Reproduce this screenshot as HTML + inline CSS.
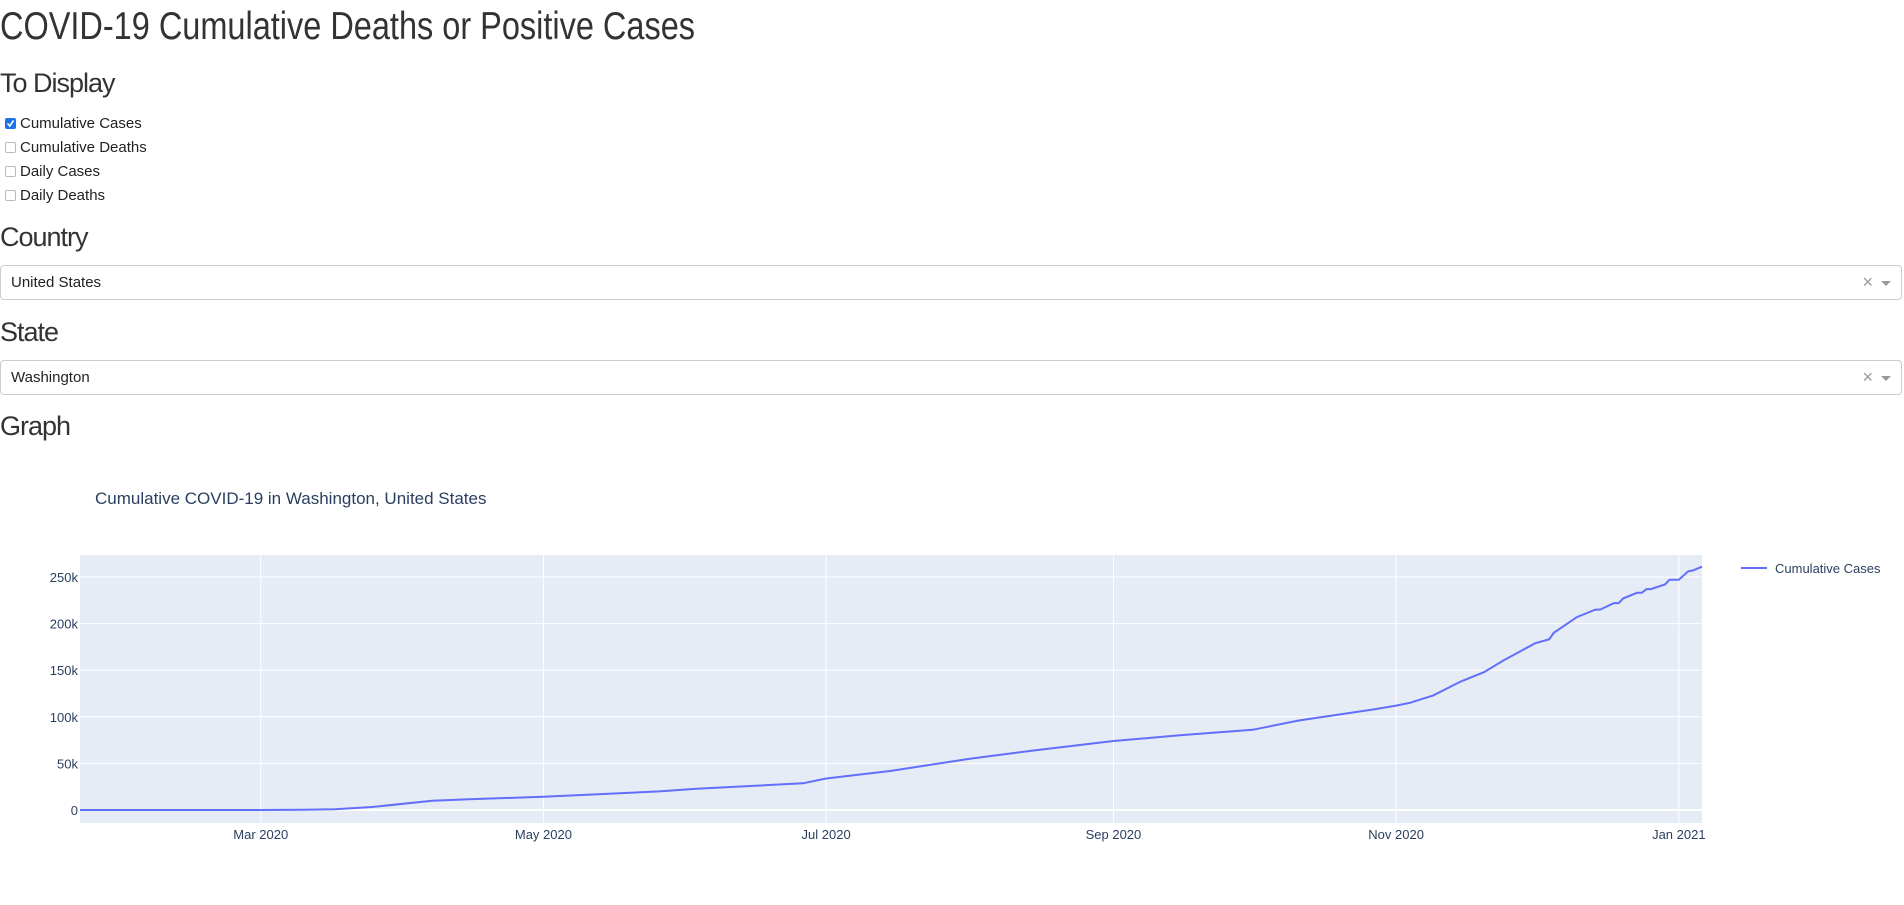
<!DOCTYPE html>
<html><head><meta charset="utf-8">
<style>
body{margin:0;width:1904px;height:905px;overflow:hidden;background:#fff;font-family:"Liberation Sans",sans-serif;color:#333;position:relative}
.abs{position:absolute;white-space:nowrap}
.h{font-weight:300;color:#333;transform-origin:0 0}
.cb{position:absolute;left:5px;width:11px;height:11px;border:1px solid #bbb;border-radius:2px;background:#fff;box-sizing:border-box}
.cb.on{background:#1a73e8;border-color:#1a73e8}
.lbl{position:absolute;left:20px;font-size:15px;color:#222}
.dd{position:absolute;left:0;width:1902px;height:35px;border:1px solid #ccc;border-radius:4px;box-sizing:border-box;background:#fff}
.dd .v{position:absolute;left:10px;top:8px;font-size:15px;color:#222}
.dd .x{position:absolute;right:28px;top:6px;font-size:18px;color:#999}
.dd .a{position:absolute;right:10px;top:15px;width:0;height:0;border-left:5px solid transparent;border-right:5px solid transparent;border-top:5px solid #999}
</style></head><body>
<div class="abs h" id="t1" style="left:0;top:5px;font-size:39px">COVID-19 Cumulative Deaths or Positive Cases</div>
<div class="abs h" style="left:0;top:68px;font-size:27px;letter-spacing:-1px">To Display</div>
<div>
<div class="cb on" style="top:118px"><svg width="9" height="9" style="position:absolute;left:0;top:0"><path d="M1.5 4.5 L3.8 7 L7.5 1.5" stroke="#fff" stroke-width="1.6" fill="none"/></svg></div>
<div class="lbl" style="top:115px">Cumulative Cases</div>
<div class="cb" style="top:142px"></div>
<div class="lbl" style="top:139px">Cumulative Deaths</div>
<div class="cb" style="top:166px"></div>
<div class="lbl" style="top:163px">Daily Cases</div>
<div class="cb" style="top:190px"></div>
<div class="lbl" style="top:187px">Daily Deaths</div>
</div>
<div class="abs h" style="left:0;top:222px;font-size:27px;letter-spacing:-1px">Country</div>
<div class="dd" style="top:265px"><span class="v">United States</span><span class="x">×</span><span class="a"></span></div>
<div class="abs h" style="left:0;top:317px;font-size:27px;letter-spacing:-1px">State</div>
<div class="dd" style="top:360px"><span class="v">Washington</span><span class="x">×</span><span class="a"></span></div>
<div class="abs h" style="left:0;top:411px;font-size:27px;letter-spacing:-1px">Graph</div>
<svg id="chart" width="1904" height="905" style="position:absolute;left:0;top:0" font-family="'Liberation Sans',sans-serif"></svg>
<script>
const dates=["2020-01-22","2020-01-31","2020-03-01","2020-03-10","2020-03-17","2020-03-25","2020-04-07","2020-04-15","2020-05-01","2020-05-26","2020-06-03","2020-06-26","2020-07-01","2020-07-15","2020-08-01","2020-08-15","2020-09-01","2020-09-15","2020-10-01","2020-10-11","2020-10-27","2020-11-01","2020-11-04","2020-11-09","2020-11-15","2020-11-20","2020-11-24","2020-12-01","2020-12-04","2020-12-05","2020-12-10","2020-12-14","2020-12-15","2020-12-18","2020-12-19","2020-12-20","2020-12-23","2020-12-24","2020-12-25","2020-12-26","2020-12-29","2020-12-30","2021-01-01","2021-01-03","2021-01-04","2021-01-06"];
const cases=[1,1,40,200,700,3200,10000,11500,14300,20000,22900,28600,33800,42000,55000,64000,74000,80000,86000,96000,107800,112000,115000,123000,138000,148000,160000,179000,183000,190000,207000,215000,215000,222000,222000,227000,233000,233000,237000,237000,242000,247000,247000,256000,257000,261000];
const yTicks=[0,50000,100000,150000,200000,250000];
const yTickLabels=["0","50k","100k","150k","200k","250k"];
const xTicks=["2020-03-01","2020-05-01","2020-07-01","2020-09-01","2020-11-01","2021-01-01"];
const xTickLabels=["Mar 2020","May 2020","Jul 2020","Sep 2020","Nov 2020","Jan 2021"];
const seriesName="Cumulative Cases";
const titleText="Cumulative COVID-19 in Washington, United States";

const L=80,R=1702,T=555,B=823;
const d0=Date.parse("2020-01-22"),d1=Date.parse("2021-01-06");
const xs=d=>L+(Date.parse(d)-d0)/(d1-d0)*(R-L);
const ys=v=>810-v/50000*46.6;
const svg=document.getElementById('chart');
const NS="http://www.w3.org/2000/svg";
function mk(tag,attrs,parent){const e=document.createElementNS(NS,tag);for(const k in attrs)e.setAttribute(k,attrs[k]);(parent||svg).appendChild(e);return e;}
const bg=mk('rect',{x:L,y:T,width:R-L,height:B-T,fill:'#e5ecf6'});


xTicks.forEach((d,i)=>{
 const g=mk('line',{x1:xs(d),x2:xs(d),y1:T,y2:B,stroke:'#fff','stroke-width':1});
 
 
 const t=mk('text',{x:xs(d),y:B+16,'text-anchor':'middle','font-size':13,fill:'#2a3f5f'});
 t.textContent=xTickLabels[i];
 
 
});
yTicks.forEach((v,i)=>{
 const g=mk('line',{x1:L,x2:R,y1:ys(v),y2:ys(v),stroke:'#fff','stroke-width':v===0?2:1});
 
 
 const t=mk('text',{x:L-2,y:ys(v)+5,'text-anchor':'end','font-size':13,fill:'#2a3f5f'});
 t.textContent=yTickLabels[i];
 
 
});
const pts=dates.map((d,i)=>xs(d).toFixed(1)+','+ys(cases[i]).toFixed(1)).join(' ');
const line=mk('polyline',{points:pts,fill:'none',stroke:'#636efa','stroke-width':2});


const tt=mk('text',{x:95,y:504,'font-size':17,fill:'#2a3f5f'});
tt.textContent=titleText;


const lg=mk('line',{x1:1741,x2:1767,y1:568,y2:568,stroke:'#636efa','stroke-width':2});


const lt=mk('text',{x:1775,y:573,'font-size':13,fill:'#2a3f5f'});
lt.textContent=seriesName;


const t1=document.getElementById('t1');
const w=t1.getBoundingClientRect().width;
t1.style.transform='scaleX('+(695/w)+')';
</script>
</body></html>
